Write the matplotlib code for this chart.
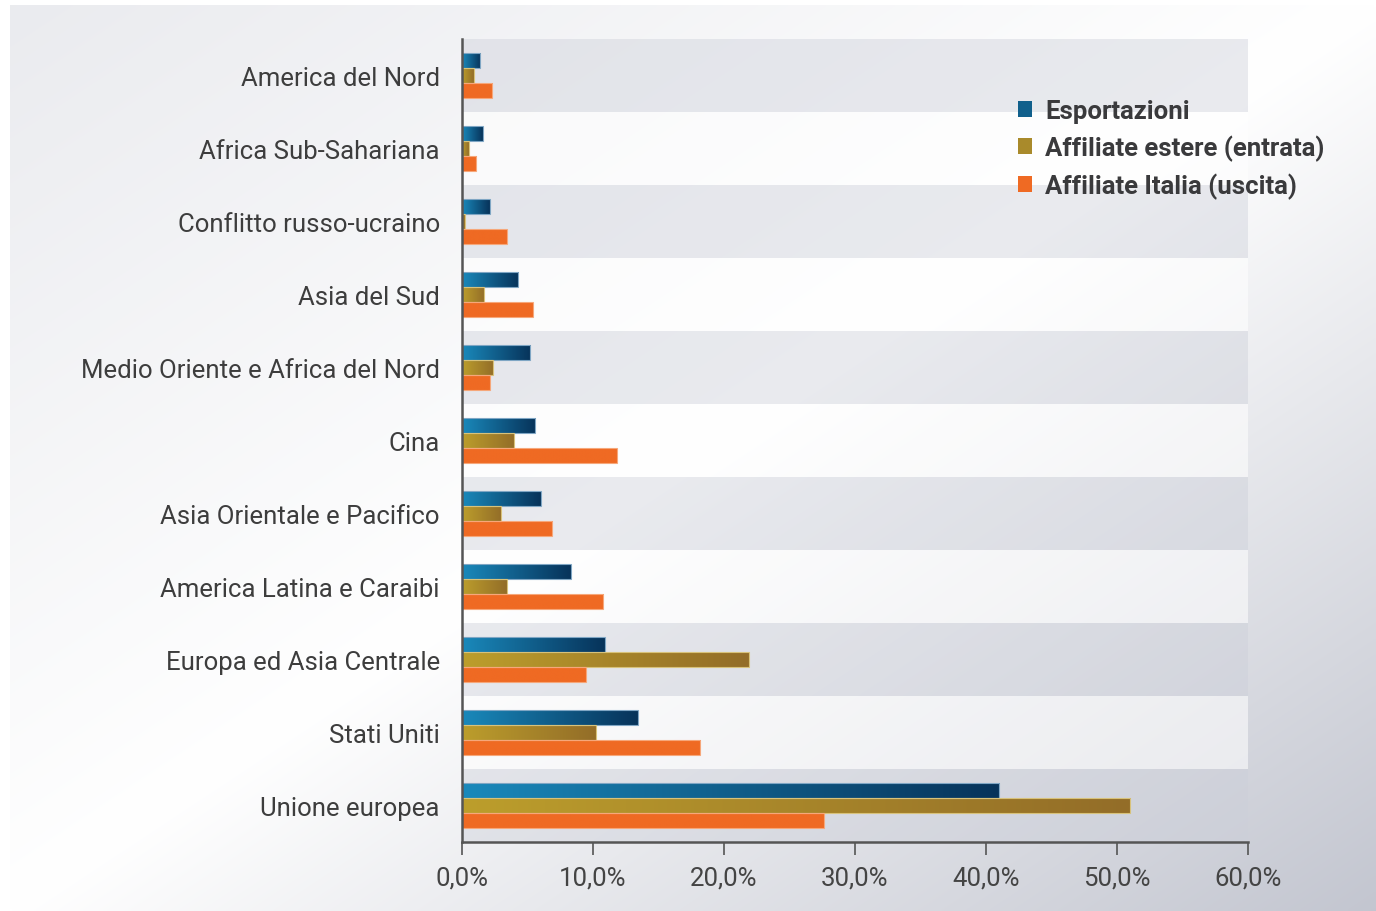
import numpy as np
import matplotlib
matplotlib.use('Agg')
import matplotlib.pyplot as plt
from matplotlib import font_manager
from matplotlib.colors import LinearSegmentedColormap
from matplotlib.patches import Patch

# font: a narrow sans if available, otherwise Roboto
names = set(f.name for f in font_manager.fontManager.ttflist)
if 'Liberation Sans Narrow' in names:
    plt.rcParams['font.family'] = ['Liberation Sans Narrow', 'DejaVu Sans']
else:
    plt.rcParams['font.family'] = ['Roboto', 'DejaVu Sans']

#%% data
categories = ['America del Nord', 'Africa Sub-Sahariana', 'Conflitto russo-ucraino',
              'Asia del Sud', 'Medio Oriente e Africa del Nord', 'Cina',
              'Asia Orientale e Pacifico', 'America Latina e Caraibi',
              'Europa ed Asia Centrale', 'Stati Uniti', 'Unione europea']
esportazioni    = [1.4, 1.6, 2.1, 4.3, 5.2, 5.6, 6.0, 8.3, 10.9, 13.4, 41.0]
affiliate_est   = [0.9, 0.5, 0.2, 1.7, 2.4, 4.0, 3.0, 3.4, 21.9, 10.2, 51.0]
affiliate_ita   = [2.3, 1.1, 3.4, 5.4, 2.1, 11.8, 6.9, 10.8, 9.5, 18.2, 27.6]
series_names    = ['Esportazioni', 'Affiliate estere (entrata)', 'Affiliate Italia (uscita)']
xticks          = [0, 10, 20, 30, 40, 50, 60]
xticklabels     = ['0,0%', '10,0%', '20,0%', '30,0%', '40,0%', '50,0%', '60,0%']

W, H = 1376, 912
fig = plt.figure(figsize=(W / 100, H / 100), dpi=100)
fig.patch.set_facecolor('white')

#%% background panel gradient
bg = fig.add_axes([10 / W, 0, 1 - 10 / W, 1 - 6 / H], zorder=0)
gx, gy = np.meshgrid(np.linspace(0, 1, 400), np.linspace(0, 1, 300))
s = gx + gy  # 0 top-left, 1 diagonal, 2 bottom-right
c_tl = np.array([0.918, 0.922, 0.937])
c_mid = np.array([1.0, 1.0, 1.0])
c_br = np.array([0.765, 0.776, 0.816])
t1 = np.clip(s, 0, 1)[..., None]
t2 = np.clip(s - 1, 0, 1)[..., None]
img = np.where((s <= 1)[..., None], c_tl + (c_mid - c_tl) * t1, c_mid + (c_br - c_mid) * t2)
bg.imshow(img, aspect='auto', extent=[0, 1, 1, 0], interpolation='bilinear')
bg.set_xlim(0, 1)
bg.set_ylim(1, 0)
bg.axis('off')

#%% main axes
ax = fig.add_axes([462 / W, 1 - 843 / H, (1248 - 462) / W, (843 - 40) / H], zorder=1)
ax.patch.set_alpha(0)
n = len(categories)
ypos = np.arange(n)[::-1]
ax.set_ylim(-0.5, n - 0.5)
ax.set_xlim(0, 60)

for i, y in enumerate(ypos):
    if i % 2 == 0:
        ax.axhspan(y - 0.5, y + 0.5, color=(0.80, 0.81, 0.85), alpha=0.42, lw=0, zorder=0)
    else:
        ax.axhspan(y - 0.5, y + 0.5, color='white', alpha=0.55, lw=0, zorder=0)

bh = 0.205
cmaps = [LinearSegmentedColormap.from_list('b', ['#1a89bb', '#07335a']),
         LinearSegmentedColormap.from_list('g', ['#bc9e2c', '#936d28']),
         LinearSegmentedColormap.from_list('o', ['#ef6a23', '#ef6a23'])]
edges = ['#7fa6c4', '#d8c27a', '#f6a77a']
grad = np.linspace(0, 1, 256).reshape(1, -1)
offsets = [bh, 0, -bh]
for k, vals in enumerate([esportazioni, affiliate_est, affiliate_ita]):
    bars = ax.barh(ypos + offsets[k], vals, height=bh, color='none',
                   edgecolor=edges[k], linewidth=0.8, zorder=3)
    for b in bars:
        x0, y0 = b.get_x(), b.get_y()
        im = ax.imshow(grad, extent=[x0, x0 + b.get_width(), y0, y0 + b.get_height()],
                       aspect='auto', cmap=cmaps[k], zorder=2, interpolation='bilinear')
        im.set_clip_path(b)

ax.set_yticks(ypos)
ax.set_yticklabels(categories, fontsize=18.5, color='#3d3d3d')
ax.tick_params(axis='y', length=0, pad=16)
ax.set_xticks(xticks)
ax.set_xticklabels(xticklabels, fontsize=18.5, color='#444444')
ax.tick_params(axis='x', length=9, width=1.2, color='#555555', direction='out', pad=8)
for sp in ['top', 'right']:
    ax.spines[sp].set_visible(False)
for sp in ['left', 'bottom']:
    ax.spines[sp].set_color('#555555')
    ax.spines[sp].set_linewidth(1.8)
    ax.spines[sp].set_zorder(4)
ax.set_aspect('auto')

handles = [Patch(facecolor='#11608c', edgecolor='none'),
           Patch(facecolor='#a98a2b', edgecolor='none'),
           Patch(facecolor='#ef6a23', edgecolor='none')]
leg = fig.legend(handles, series_names, loc='upper left', bbox_to_anchor=(995 / W, 1 - 77 / H),
                 frameon=False, prop={'size': 18.5, 'weight': 'bold'},
                 handlelength=0.55, handleheight=0.55, handletextpad=0.5, labelspacing=0.45)
for t in leg.get_texts():
    t.set_color('#3a3a3c')

fig.savefig('out.png', dpi=100)
